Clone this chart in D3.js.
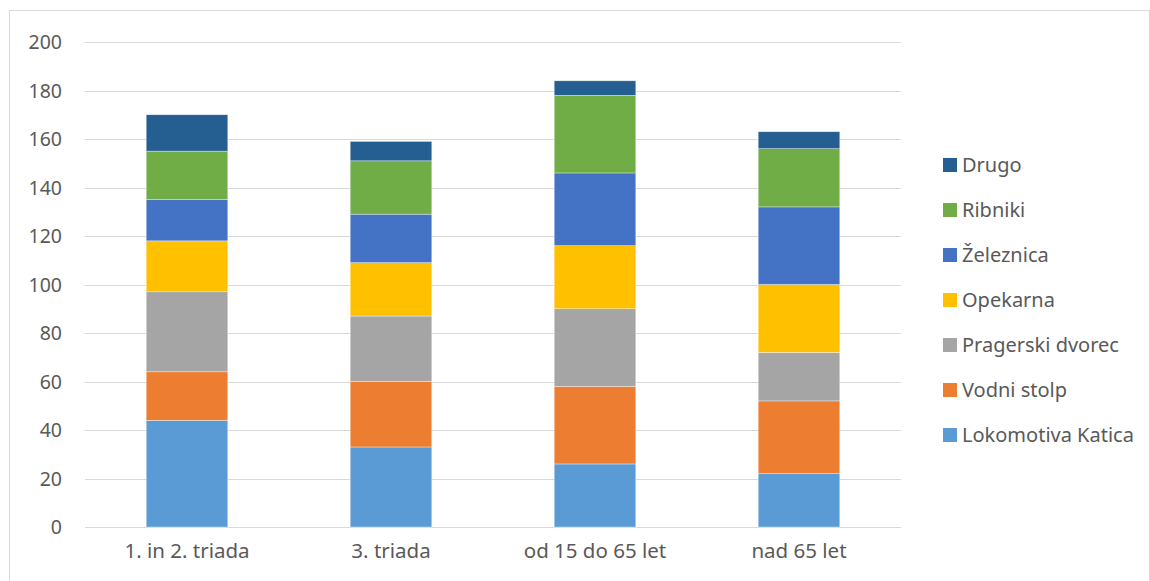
<!DOCTYPE html>
<html><head><meta charset="utf-8">
<script src="https://cdn.jsdelivr.net/npm/d3@7"></script>
<style>html,body{margin:0;padding:0;background:#fff;}svg{display:block;}</style>
</head><body>
<svg id="chart" width="1150" height="581"></svg>
<script>
const categories = ["1. in 2. triada", "3. triada", "od 15 do 65 let", "nad 65 let"];
const seriesNames = ["Lokomotiva Katica", "Vodni stolp", "Pragerski dvorec", "Opekarna", "Železnica", "Ribniki", "Drugo"];
const lokomotiva = [44, 33, 26, 22];
const vodni = [20, 27, 32, 30];
const pragerski = [33, 27, 32, 20];
const opekarna = [21, 22, 26, 28];
const zeleznica = [17, 20, 30, 32];
const ribniki = [20, 22, 32, 24];
const drugo = [15, 8, 6, 7];
const yTicks = [0, 20, 40, 60, 80, 100, 120, 140, 160, 180, 200];
const colors = ["#5B9BD5", "#ED7D31", "#A5A5A5", "#FFC000", "#4472C4", "#70AD47", "#255E91"];

const seriesValues = [lokomotiva, vodni, pragerski, opekarna, zeleznica, ribniki, drugo];
const table = categories.map((c, i) => {
  const row = {cat: c};
  seriesNames.forEach((s, j) => row[s] = seriesValues[j][i]);
  return row;
});

const svg = d3.select("#chart");
const font = "'Noto Sans', 'Open Sans', sans-serif";
const textColor = "#595959";

// chart border
svg.append("rect").attr("x", 9.5).attr("y", 10.5).attr("width", 1140).attr("height", 600)
  .attr("fill", "#fff").attr("stroke", "#d9d9d9").attr("stroke-width", 1);

const x = d3.scaleBand().domain(categories).range([85, 901]).paddingInner(0.6).paddingOuter(0.3);
const y = d3.scaleLinear().domain([0, 200]).range([527, 42]);

// gridlines
svg.append("g").selectAll("line").data(yTicks).join("line")
  .attr("x1", 85).attr("x2", 901)
  .attr("y1", d => Math.round(y(d)) + 0.5).attr("y2", d => Math.round(y(d)) + 0.5)
  .attr("stroke", "#d9d9d9").attr("stroke-width", 1);

// y axis labels
const yAxis = d3.axisLeft(y).tickValues(yTicks).tickSize(0).tickPadding(0);
const gy = svg.append("g").attr("transform", "translate(62,0)").call(yAxis);
gy.select(".domain").remove();
gy.selectAll("text").attr("font-family", font).attr("font-size", 19.5).attr("fill", textColor).attr("dy", "0.35em");

// x axis labels
const xAxis = d3.axisBottom(x).tickSize(0).tickPadding(0);
const gx = svg.append("g").attr("transform", "translate(0,543)").call(xAxis);
gx.select(".domain").remove();
gx.selectAll("text").attr("font-family", font).attr("font-size", 20.5).attr("fill", textColor).attr("dy", "0.71em");

// stacked bars
const stack = d3.stack().keys(seriesNames);
const stacked = stack(table);
svg.append("g").selectAll("g").data(stacked).join("g")
  .attr("fill", (d, i) => colors[i])
  .selectAll("rect").data(d => d).join("rect")
  .attr("x", d => x(d.data.cat))
  .attr("width", x.bandwidth())
  .attr("y", d => y(d[1]))
  .attr("height", d => y(d[0]) - y(d[1]))
  .attr("stroke", "#ffffff").attr("stroke-width", 0.6).attr("stroke-opacity", 0.6);

// legend (reverse order)
const legendItems = seriesNames.map((s, i) => ({name: s, color: colors[i]})).reverse();
const lg = svg.append("g").selectAll("g").data(legendItems).join("g")
  .attr("transform", (d, i) => `translate(943, ${165 + i * 45})`);
lg.append("rect").attr("x", 0).attr("y", -7).attr("width", 14).attr("height", 14).attr("fill", d => d.color);
lg.append("text").attr("x", 19).attr("y", 0).attr("dy", "0.35em")
  .attr("font-family", font).attr("font-size", 20).attr("fill", textColor).text(d => d.name);
</script>
</body></html>
